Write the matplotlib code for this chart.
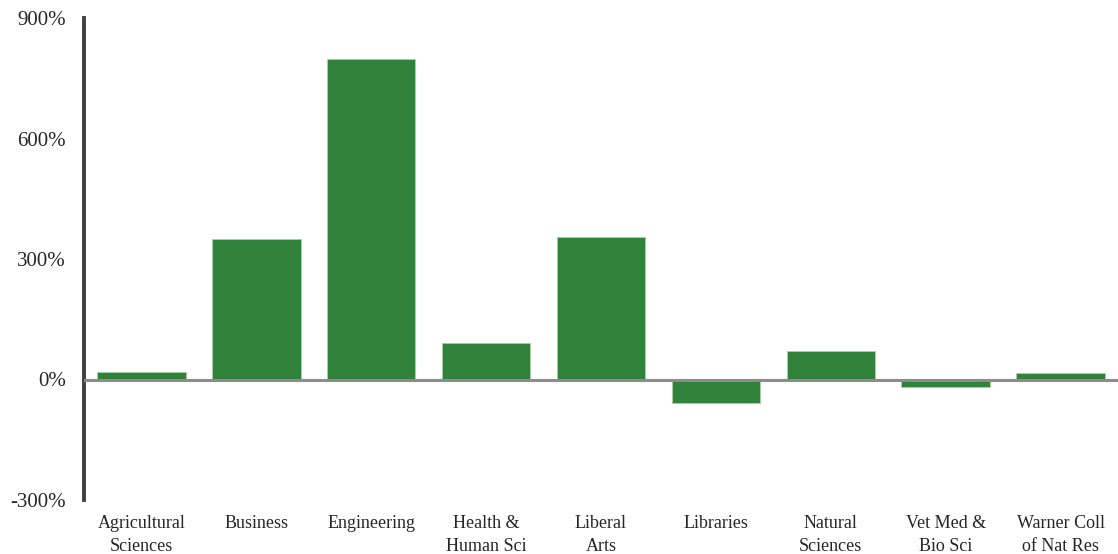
import numpy as np
import matplotlib.pyplot as plt
from matplotlib.ticker import FuncFormatter

# change by college (%)
colleges = ["Agricultural\nSciences", "Business", "Engineering", "Health &\nHuman Sci",
            "Liberal\nArts", "Libraries", "Natural\nSciences", "Vet Med &\nBio Sci",
            "Warner Coll\nof Nat Res"]
change = [18, 351, 799, 90, 356, -58, 71, -18, 15]

plt.rcParams['font.family'] = ['Liberation Serif', 'DejaVu Serif']

fig = plt.figure(figsize=(11.18, 5.54), dpi=100)
ax = fig.add_axes([84 / 1118, 54 / 554, 1 - 84 / 1118, 482 / 554])

x = np.arange(len(colleges))
ax.bar(x, change, width=0.77, color='#31823a', edgecolor='#a9cfa9', linewidth=0.6, zorder=2)
ax.axhline(0, color='#8c8c8c', linewidth=2.2, zorder=3)

ax.set_xlim(-0.5, len(colleges) - 0.5)
ax.set_ylim(-300, 900)
ax.set_yticks([-300, 0, 300, 600, 900])
ax.yaxis.set_major_formatter(FuncFormatter(lambda v, p: f"{v:.0f}%"))
ax.set_xticks(x)
ax.set_xticklabels(colleges, fontsize=13, color='#262626', linespacing=1.45)
ax.tick_params(axis='y', length=0, labelsize=15, colors='#262626', pad=13)
ax.tick_params(axis='x', length=0, pad=11)
for lbl in ax.get_yticklabels():
    lbl.set_va('center_baseline')

for s in ['top', 'right', 'bottom']:
    ax.spines[s].set_visible(False)
ax.spines['left'].set_color('#404040')
ax.spines['left'].set_linewidth(2.8)

fig.savefig('out.png', dpi=100)
